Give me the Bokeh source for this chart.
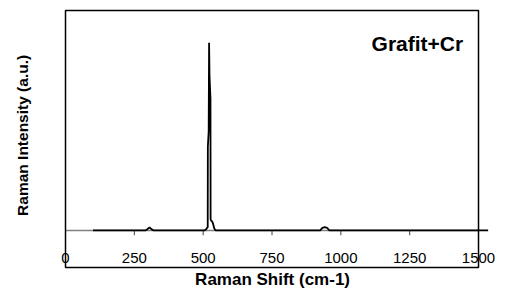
from bokeh.plotting import figure
from bokeh.models import Range1d, ColumnDataSource, Label
from bokeh.core.properties import value
from bokeh.embed import file_html
from bokeh.resources import INLINE

# ---- data ----
raman_shift = [100, 150, 200, 250, 290, 298, 305, 312, 320, 400, 480, 505, 510,
               516.5, 517, 520, 521.5, 523, 526.5, 527, 529, 533, 536, 540, 545,
               600, 700, 800, 900, 925, 933, 942, 950, 958, 1000, 1100, 1200,
               1300, 1400, 1500, 1535]
intensity = [0, 0, 0, 0, 0, 0.6, 1.4, 0.6, 0, 0, 0, 0, 0.5,
             1.5, 38, 45, 85.3, 70, 60, 5, 4.5, 4, 3, 1, 0,
             0, 0, 0, 0, 0, 1.2, 1.5, 1.2, 0, 0, 0, 0,
             0, 0, 0, 0]
x_ticks = [0, 250, 500, 750, 1000, 1250, 1500]
x_tick_labels = ["0", "250", "500", "750", "1000", "1250", "1500"]
x_title = "Raman Shift (cm-1)"
y_title = "Raman Intensity (a.u.)"
sample_label = "Grafit+Cr"

# plot box extents in data units (intensity axis is arbitrary units)
Y_BOX_TOP = 100
Y_BOX_BOTTOM = -16.8

FONT = "Liberation Sans"

p = figure(width=495, height=290, output_backend="svg", toolbar_location=None,
           x_axis_location=None, y_axis_location=None,
           x_range=Range1d(-236.1, 1561.7), y_range=Range1d(-27.3, 104.5),
           min_border=0, title=None)
p.outline_line_color = None
p.xgrid.visible = False
p.ygrid.visible = False
p.background_fill_color = "white"
p.border_fill_color = "white"

# gray zero axis line
p.line(x=[x_ticks[0], x_ticks[-1]], y=[0, 0], line_color="#808080", line_width=1.5)

# tick marks (pointing down from the axis)
tick_src = ColumnDataSource(dict(x=x_ticks, y0=[0] * len(x_ticks),
                                 y1=[-2.2] * len(x_ticks), lab=x_tick_labels))
p.segment(x0="x", y0="y0", x1="x", y1="y1", source=tick_src,
          line_color="#404040", line_width=1)

# spectrum
p.line(x=raman_shift, y=intensity, line_color="black", line_width=1.8)

# plot box
p.quad(left=[x_ticks[0]], right=[x_ticks[-1]], bottom=[Y_BOX_BOTTOM], top=[Y_BOX_TOP],
       fill_color=None, line_color="black", line_width=1.5)

# tick labels
p.text(x="x", y=-12.7, text="lab", source=tick_src, text_align="center",
       text_baseline="alphabetic", text_font=value(FONT), text_font_size="15px",
       text_color="black")

# titles
p.add_layout(Label(x=752, y=-22.2, text=x_title, text_align="center",
                   text_baseline="alphabetic", text_font=FONT, text_font_size="17px",
                   text_font_style="bold", text_color="black"))
p.add_layout(Label(x=-156.2, y=43.2, text=y_title, angle=1.5708, angle_units="rad",
                   text_align="center", text_baseline="middle", text_font=FONT,
                   text_font_size="15.5px", text_font_style="bold", text_color="black"))
p.add_layout(Label(x=1278, y=85, text=sample_label, text_align="center",
                   text_baseline="alphabetic", text_font=FONT, text_font_size="21px",
                   text_font_style="bold", text_color="black"))

open("out.html", "w").write(file_html(p, INLINE))
